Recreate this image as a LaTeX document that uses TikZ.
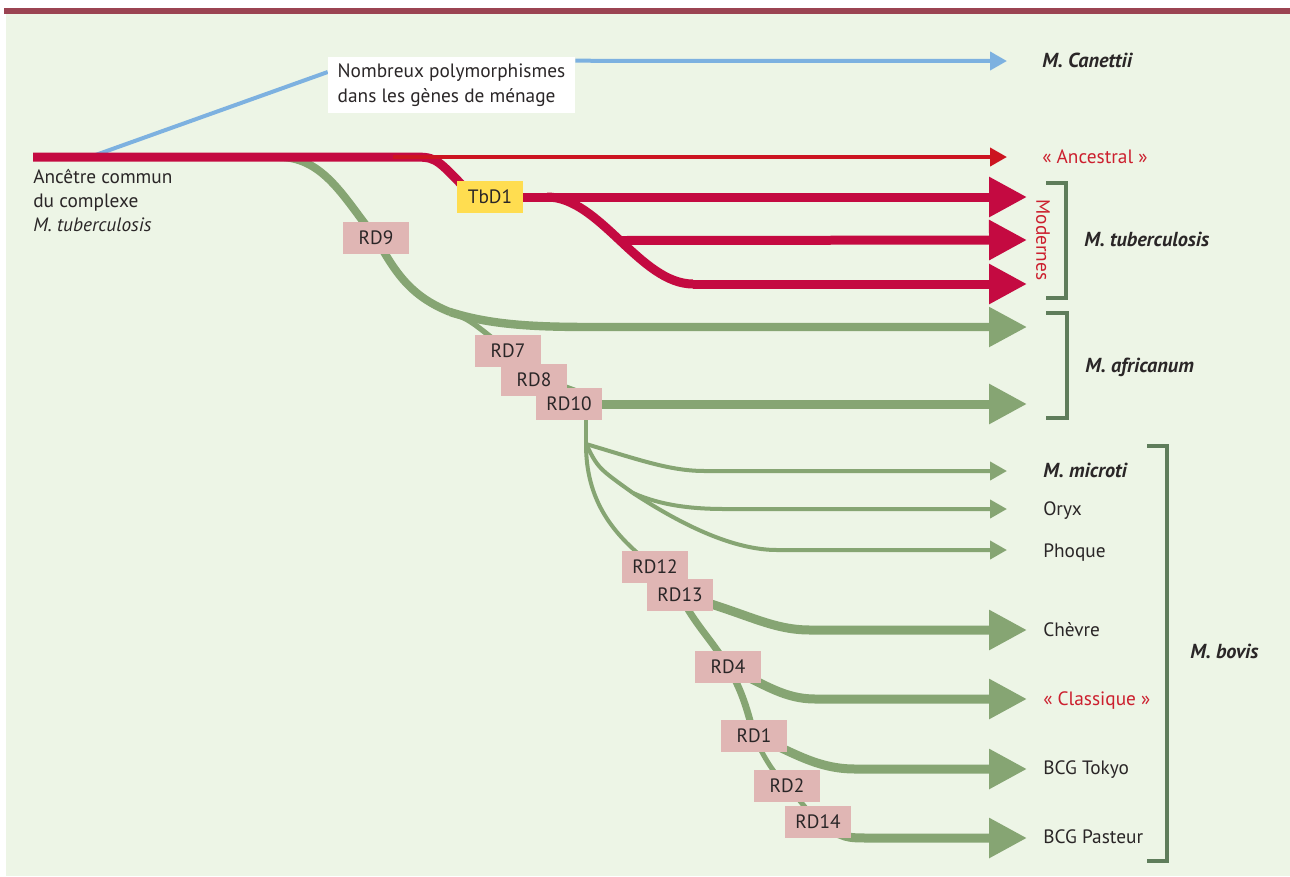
\documentclass[tikz,border=0pt]{standalone}
\usepackage{fontspec}
\setmainfont{PT Sans}
\usetikzlibrary{arrows.meta}
\definecolor{bgc}{HTML}{EDF5E6}
\definecolor{barc}{HTML}{9B4452}
\definecolor{redc}{HTML}{C40A41}
\definecolor{redthin}{HTML}{CC1420}
\definecolor{bluec}{HTML}{7DB1E0}
\definecolor{greenc}{HTML}{86A573}
\definecolor{brc}{HTML}{5F7D5B}
\definecolor{pinkc}{HTML}{E0B6B4}
\definecolor{yelc}{HTML}{FFDD50}
\definecolor{txt}{HTML}{2A2627}
\definecolor{redtxt}{HTML}{CC1F2E}
\pgfdeclarelayer{back}
\pgfdeclarelayer{lines}
\pgfsetlayers{back,lines,main}
\tikzset{
  rdbox/.style={fill=pinkc, minimum width=49pt, minimum height=24pt, inner sep=0pt, text=txt},
  tbbox/.style={fill=yelc, minimum width=49pt, minimum height=24pt, inner sep=0pt, text=txt},
  lbl/.style={anchor=base west, inner sep=0pt},
  bigtip/.style={-{Triangle[length=28.5pt,width=28.5pt]}},
  smalltip/.style={-{Triangle[length=12.75pt,width=13.5pt]}},
  redline/.style={draw=redc, line width=6.75pt},
  grthick/.style={draw=greenc, line width=6.75pt},
  grthin/.style={draw=greenc, line width=3pt},
  brack/.style={draw=brc, line width=2.6pt},
  bigname/.style={lbl, font=\fontsize{15.2}{18}\selectfont\bfseries\itshape},
}
\begin{document}
\begin{tikzpicture}[x=0.75pt,y=-0.75pt,font=\fontsize{14.5}{18}\selectfont,text=txt]
\begin{pgfonlayer}{back}
\fill[white] (0,0) rectangle (1290,876);
\fill[bgc] (6,14) rectangle (1290,876);
\fill[barc] (4,8) rectangle (1290,14);
\end{pgfonlayer}
\useasboundingbox (0,0) rectangle (1290,876);

% boxes
\node[fill=white, minimum width=185.25pt, minimum height=42pt, align=left, inner sep=0pt,
      font=\fontsize{14.5}{18.75}\selectfont] (poly) at (451.5,85)
      {Nombreux polymorphismes\\dans les gènes de ménage};
\node[tbbox] (tbd1) at (490,197) {TbD1};
\node[rdbox] (rd9) at (376,238) {RD9};
\node[rdbox] (rd7) at (508,351) {RD7};
\node[rdbox] (rd8) at (534,380) {RD8};
\node[rdbox] (rd10) at (569,404) {RD10};
\node[rdbox] (rd12) at (655,567) {RD12};
\node[rdbox] (rd13) at (680,595) {RD13};
\node[rdbox] (rd4) at (728,667) {RD4};
\node[rdbox] (rd1) at (754,736) {RD1};
\node[rdbox] (rd2) at (787,786) {RD2};
\node[rdbox] (rd14) at (818,822) {RD14};

% labels
\node[anchor=north west, align=left, inner sep=0pt] (anc) at (33,169)
  {Ancêtre commun\\du complexe\\\textit{M. tuberculosis}};
\node[bigname] (canettii) at (1042,67) {M. Canettii};
\node[lbl, text=redtxt] (ancestral) at (1042,163) {« Ancestral »};
\node[rotate=-90, text=redtxt, inner sep=0pt] (mod) at (1043,240) {Modernes};
\node[bigname] (mtb) at (1084,246) {M. tuberculosis};
\node[bigname] (maf) at (1085,372) {M. africanum};
\node[bigname] (mmic) at (1043,477) {M. microti};
\node[lbl] (oryx) at (1043,515) {Oryx};
\node[lbl] (phoque) at (1043,557) {Phoque};
\node[lbl] (chevre) at (1043,636) {Chèvre};
\node[lbl, text=redtxt] (classique) at (1043,705) {« Classique »};
\node[lbl] (tokyo) at (1043,774) {BCG Tokyo};
\node[lbl] (pasteur) at (1043,843) {BCG Pasteur};
\node[bigname] (mbov) at (1190,658) {M. bovis};

% coordinates
\coordinate (root) at (33,157);
\coordinate (bstart) at (90,157);
\coordinate (gstart) at (280,157);
\coordinate (rbend) at (410,157);
\coordinate (athin) at (393,157);
\coordinate (cane) at (1007,61);
\coordinate (ancE) at (1007,157);
\coordinate (mod1) at (1027,197);
\coordinate (mod2) at (1027,240);
\coordinate (mod3) at (1027,284);
\coordinate (rsplit) at (547,197);
\coordinate (rmid) at (620,240.5);
\coordinate (rlow) at (693,284);
\coordinate (gsplit) at (450,312);
\coordinate (af1) at (1027,327);
\coordinate (af2) at (1027,404);
\coordinate (br) at (586,444);
\coordinate (obr) at (633,493);
\coordinate (e_mic) at (1007,471);
\coordinate (e_ory) at (1007,509);
\coordinate (e_pho) at (1007,550);
\coordinate (e_che) at (1027,630);
\coordinate (e_cla) at (1027,699);
\coordinate (e_tok) at (1027,769);
\coordinate (e_pas) at (1027,838);

\begin{pgfonlayer}{lines}
% blue
\draw[bluec, line width=3pt] (bstart) -- ([yshift=9.75pt]poly.west);
\draw[bluec, line width=3pt, smalltip] ([yshift=-3pt]poly.north east) -- (cane);
% green RD9 trunk
\draw[greenc, line width=6pt] (gstart) .. controls (325,158) and (345,200) .. (rd9.center)
   .. controls (395,272) and (410,296) .. (gsplit);
\draw[greenc, line width=6.3pt, bigtip] (gsplit) .. controls (500,328) and (555,327) .. (620,327) -- (af1);
\draw[greenc, line width=4pt] (gsplit) .. controls (470,320) .. (rd7.center) -- (rd8.center)
   .. controls (555,383) .. (582,393);
\draw[grthick, bigtip] (rd10.center) -- (af2);
\draw[greenc, line width=3pt] (br |- rd10.south) -- (br);
\draw[grthin, smalltip] (br) .. controls (640,460) and (670,471) .. (705,471) -- (e_mic);
\draw[grthin] (br) .. controls (598,468) .. (obr);
\draw[grthin, smalltip] (obr) .. controls (660,505) and (690,509) .. (725,509) -- (e_ory);
\draw[grthin, smalltip] (obr) .. controls (685,527) and (735,550) .. (777,550) -- (e_pho);
\draw[grthin] (br) .. controls (586,500) and (612,535) .. (rd12.center) -- (rd13.center);
\draw[greenc, line width=5.25pt] (rd13.center) .. controls (695,625) and (712,640) .. (rd4.center)
   .. controls (742,690) and (748,712) .. (rd1.center);
\draw[greenc, line width=3.75pt] (rd1.center) .. controls (765,760) and (775,775) .. (rd2.center)
   .. controls (800,800) and (805,808) .. (rd14.center);
\draw[grthick, bigtip] (rd13.center) .. controls (745,612) and (770,630) .. (810,630) -- (e_che);
\draw[grthick, bigtip] (rd4.center) .. controls (765,685) and (785,699) .. (815,699) -- (e_cla);
\draw[grthick, bigtip] (rd1.center) .. controls (790,750) and (815,769) .. (855,769) -- (e_tok);
\draw[grthick, bigtip] (rd14.center) .. controls (845,838) .. (870,838) -- (e_pas);
% red
\draw[redline] (root) -- (rbend) .. controls (435,157) .. (462,185) -- (tbd1.center);
\draw[redline, bigtip] (tbd1.center) -- (mod1);
\draw[redline] (rsplit) .. controls (600,197) and (640,284) .. (rlow);
\draw[redline, bigtip] (rmid) -- (mod2);
\draw[redline, bigtip] (rlow) -- (mod3);
\draw[redthin, line width=3pt, smalltip] (athin) -- (ancE);
\end{pgfonlayer}

% brackets
\draw[brack] (1046,183) -- (1066,183) -- (1066,298) -- (1046,298);
\draw[brack] (1046,313) -- (1067,313) -- (1067,418) -- (1046,418);
\draw[brack] (1147,446) -- (1167,446) -- (1167,861) -- (1147,861);
\end{tikzpicture}
\end{document}
